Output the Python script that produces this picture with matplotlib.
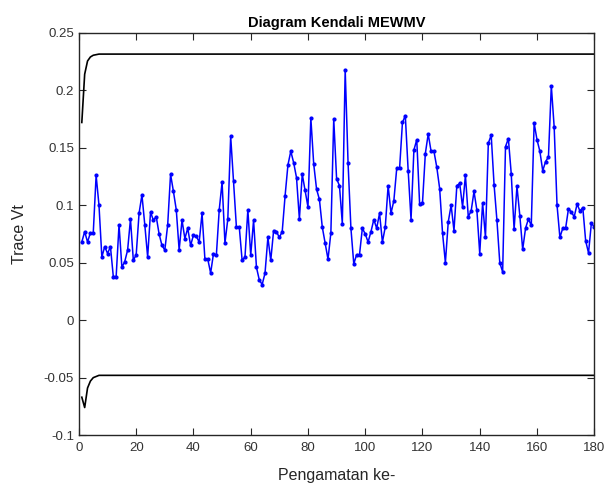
import matplotlib
matplotlib.use("Agg")
import matplotlib.pyplot as plt
from matplotlib.ticker import FuncFormatter

plt.rcParams['font.family'] = ['Liberation Sans', 'DejaVu Sans']

trace_vt = [
    0.068, 0.077, 0.068, 0.076, 0.076, 0.126, 0.100, 0.055, 0.064, 0.058,
    0.064, 0.038, 0.038, 0.083, 0.046, 0.051, 0.061, 0.088, 0.052, 0.057,
    0.093, 0.109, 0.083, 0.055, 0.094, 0.087, 0.090, 0.075, 0.065, 0.061,
    0.083, 0.127, 0.112, 0.096, 0.061, 0.087, 0.071, 0.080, 0.065, 0.074,
    0.073, 0.068, 0.093, 0.053, 0.053, 0.041, 0.058, 0.0565, 0.096, 0.120,
    0.067, 0.088, 0.160, 0.121, 0.081, 0.081, 0.052, 0.055, 0.096, 0.0565,
    0.087, 0.046, 0.035, 0.031, 0.041, 0.072, 0.052, 0.078, 0.077, 0.072,
    0.077, 0.108, 0.135, 0.147, 0.137, 0.124, 0.088, 0.127, 0.113, 0.0985,
    0.176, 0.136, 0.114, 0.105, 0.081, 0.067, 0.053, 0.076, 0.175, 0.123,
    0.117, 0.084, 0.218, 0.137, 0.080, 0.049, 0.057, 0.057, 0.080, 0.075,
    0.068, 0.077, 0.0875, 0.080, 0.093, 0.068, 0.081, 0.117, 0.093, 0.104,
    0.132, 0.132, 0.172, 0.178, 0.130, 0.0875, 0.148, 0.157, 0.101, 0.102,
    0.145, 0.162, 0.147, 0.147, 0.133, 0.1145, 0.076, 0.050, 0.0855, 0.100,
    0.078, 0.117, 0.119, 0.0985, 0.126, 0.090, 0.095, 0.112, 0.0957, 0.058,
    0.102, 0.072, 0.154, 0.161, 0.118, 0.087, 0.050, 0.042, 0.151, 0.158,
    0.1275, 0.079, 0.1165, 0.091, 0.0615, 0.080, 0.088, 0.0825, 0.1715, 0.157,
    0.147, 0.130, 0.138, 0.142, 0.204, 0.168, 0.100, 0.072, 0.080, 0.080,
    0.097, 0.094, 0.090, 0.101, 0.095, 0.098, 0.069, 0.0585, 0.0846, 0.081,
]
observations = list(range(1, len(trace_vt) + 1))

ucl_start = [0.172, 0.214, 0.2255, 0.229, 0.2305, 0.231]
ucl_steady = 0.2315
lcl_start = [-0.067, -0.076, -0.059, -0.053, -0.050, -0.049]
lcl_steady = -0.048

ucl = ucl_start + [ucl_steady] * (len(observations) - len(ucl_start))
lcl = lcl_start + [lcl_steady] * (len(observations) - len(lcl_start))

x_ticks = [0, 20, 40, 60, 80, 100, 120, 140, 160, 180]
y_ticks = [-0.1, -0.05, 0, 0.05, 0.1, 0.15, 0.2, 0.25]

fig = plt.figure(figsize=(6.12, 4.9), dpi=100)
ax = fig.add_axes([0.129, 0.112, 0.842, 0.821])

ax.plot(observations, ucl, color='black', linewidth=1.2)
ax.plot(observations, lcl, color='black', linewidth=1.2)
ax.plot(observations, trace_vt, color='#0000ff', linewidth=1.1,
        marker='.', markersize=4)

ax.set_xlim(0, 180)
ax.set_ylim(-0.1, 0.25)
ax.set_xticks(x_ticks)
ax.set_yticks(y_ticks)
ax.yaxis.set_major_formatter(FuncFormatter(lambda v, p: ('%g' % round(v, 4))))

spine_col = '#262626'
for s in ax.spines.values():
    s.set_color(spine_col)
    s.set_linewidth(1.0)
ax.tick_params(direction='in', length=5, width=0.8, colors=spine_col,
               labelcolor='#333333', labelsize=9.5, top=True, right=True)
ax.tick_params(axis='x', pad=5)

ax.set_title('Diagram Kendali MEWMV', fontsize=10.5, fontweight='bold', pad=4)
ax.set_xlabel('Pengamatan ke-', fontsize=11.5, color='#262626', labelpad=10)
ax.set_ylabel('Trace Vt', fontsize=11.5, color='#262626', labelpad=12)

fig.savefig('out.png', dpi=100)
